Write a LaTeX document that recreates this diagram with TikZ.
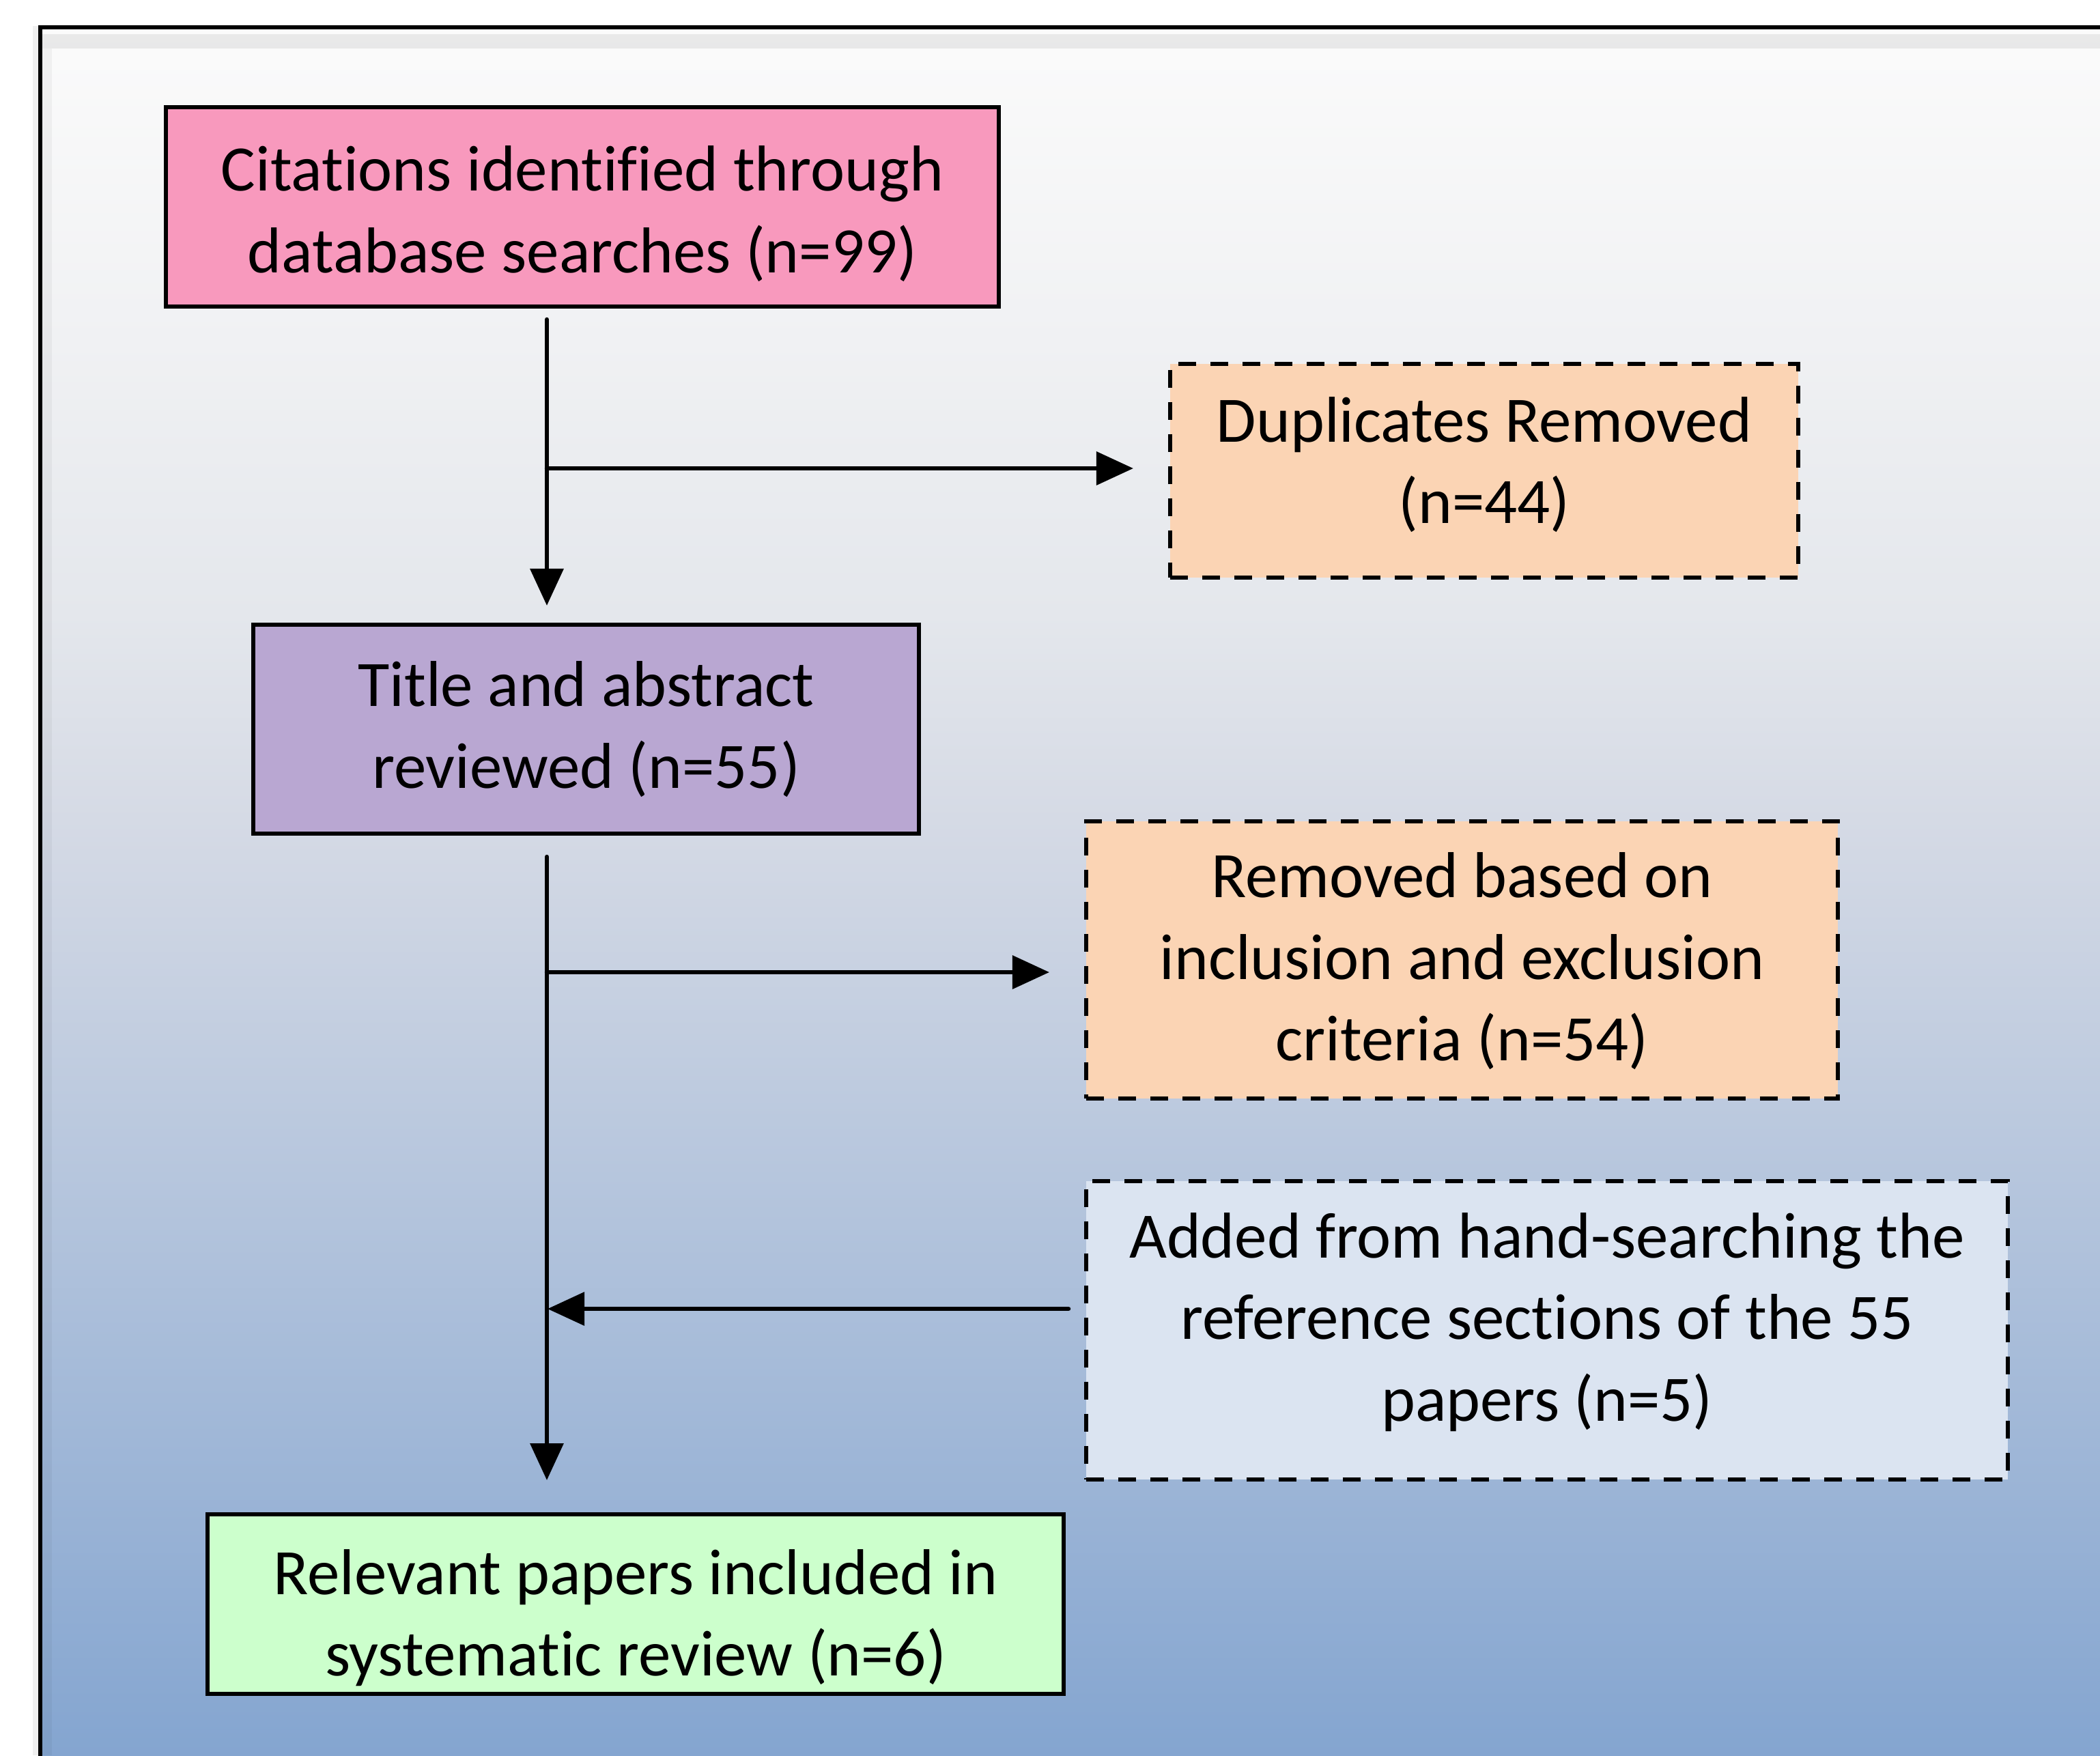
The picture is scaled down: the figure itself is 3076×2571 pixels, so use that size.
\documentclass[tikz,border=0pt]{standalone}
\usepackage{fontspec}
\setmainfont[Ligatures=NoCommon]{Carlito}
\usetikzlibrary{arrows.meta}
\definecolor{bgA}{RGB}{251,251,251}
\definecolor{bgB}{RGB}{240,241,243}
\definecolor{bgC}{RGB}{228,231,236}
\definecolor{bgD}{RGB}{213,218,229}
\definecolor{bgE}{RGB}{132,165,208}
\definecolor{pinkfill}{RGB}{248,153,189}
\definecolor{peachfill}{RGB}{251,212,180}
\definecolor{purplefill}{RGB}{185,167,210}
\definecolor{bluefill}{RGB}{219,228,241}
\definecolor{greenfill}{RGB}{204,255,204}
\pgfdeclareverticalshading{bgshade}{100bp}{color(0bp)=(bgE); color(25bp)=(bgE); color(52.08bp)=(bgD); color(58.01bp)=(bgC); color(65.91bp)=(bgB); color(75bp)=(bgA); color(100bp)=(bgA)}
\begin{document}
\begin{tikzpicture}[x=0.01cm,y=-0.01cm,
  box/.style={draw, line width=0.06cm, inner sep=0pt},
  dashbox/.style={box, dash pattern=on 0.26cm off 0.21cm},
  txt/.style={align=center, inner sep=0pt, font=\fontsize{27pt}{34pt}\selectfont},
  arr/.style={line width=0.065cm, line cap=round, -{Triangle[length=0.54cm,width=0.48cm]}}]
\useasboundingbox (0,0) rectangle (3076,2571);
\fill[white] (0,0) rectangle (3076,2571);
% frame with gradient
\shade[shading=bgshade] (59,40) rectangle (3076,2571);
\fill[black, opacity=0.06] (48,38) rectangle (56,2571);
\fill[black, opacity=0.07] (62,50) rectangle (3076,71);
\fill[black, opacity=0.04] (62,71) rectangle (76,2571);
\draw[line width=0.055cm] (59,2600) -- (59,40) -- (3100,40);
% boxes
\node[box, fill=pinkfill, minimum width=12.2cm, minimum height=2.92cm] (cit) at (853,303) {};
\node[dashbox, fill=peachfill, minimum width=9.2cm, minimum height=3.13cm] (dup) at (2174,689.5) {};
\node[box, fill=purplefill, minimum width=9.75cm, minimum height=3.06cm] (tit) at (858.5,1068) {};
\node[dashbox, fill=peachfill, minimum width=11.01cm, minimum height=4.06cm] (rem) at (2141.5,1406) {};
\node[dashbox, fill=bluefill, minimum width=13.5cm, minimum height=4.37cm] (add) at (2266,1948.5) {};
\node[box, fill=greenfill, minimum width=12.54cm, minimum height=2.63cm] (rel) at (931,2349.5) {};
% texts
\node[txt, yshift=-0.10cm] (citT) at (cit) {Citations identified through\\database searches (n=99)};
\node[txt, yshift=0.09cm] (dupT) at (dup) {Duplicates Removed\\(n=44)};
\node[txt] (titT) at (tit) {Title and abstract\\reviewed (n=55)};
\node[txt, yshift=-0.02cm] (remT) at (rem) {Removed based on\\inclusion and exclusion\\criteria (n=54)};
\node[txt, yshift=0.12cm] (addT) at (add) {Added from hand-searching the\\reference sections of the 55\\papers (n=5)};
\node[txt, yshift=-0.20cm] (relT) at (rel) {Relevant papers included in\\systematic review (n=6)};
% connector points
\coordinate (a1s) at (801,468);
\coordinate (a1e) at (801,887);
\coordinate (j1) at (801,686);
\coordinate (a2e) at (1660,686);
\coordinate (a3s) at (801,1255);
\coordinate (a3e) at (801,2168);
\coordinate (j2) at (801,1424);
\coordinate (a4e) at (1537,1424);
\coordinate (a5s) at (1565,1917);
\coordinate (a5e) at (802,1917);
\draw[arr] (a1s) -- (a1e);
\draw[arr] (j1) -- (a2e);
\draw[arr] (a3s) -- (a3e);
\draw[arr] (j2) -- (a4e);
\draw[arr] (a5s) -- (a5e);
\end{tikzpicture}
\end{document}
